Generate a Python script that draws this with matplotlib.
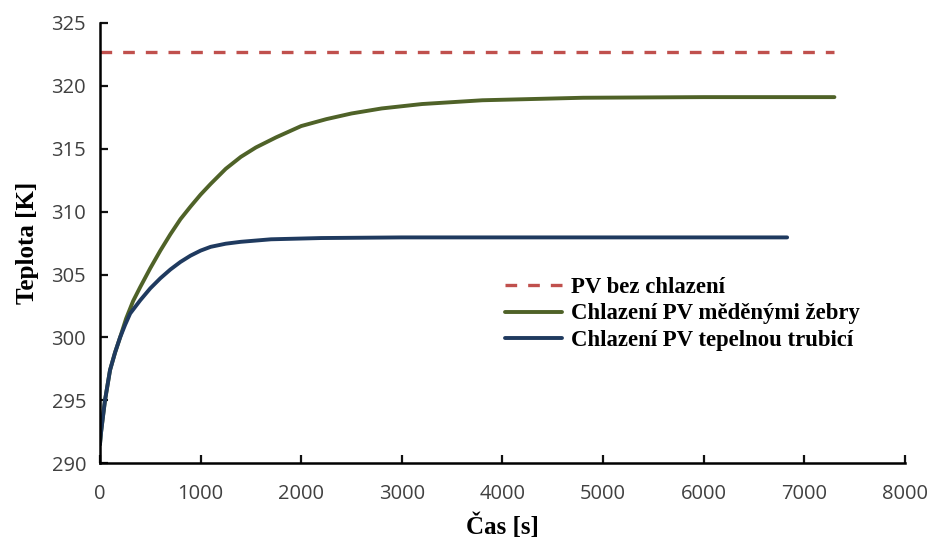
import matplotlib.pyplot as plt
import numpy as np

# values
t_ref = [0, 7300]
T_ref = [322.65, 322.65]

t_fins = [0, 10, 25, 50, 100, 150, 200, 260, 330, 400, 500, 600, 700, 800, 900,
          1000, 1100, 1250, 1400, 1550, 1750, 2000, 2250, 2500, 2800, 3200,
          3800, 4800, 6000, 7300]
T_fins = [291.5, 292.4, 293.4, 295.0, 297.4, 298.8, 300.0, 301.5, 302.9, 304.0,
          305.5, 306.9, 308.2, 309.4, 310.4, 311.35, 312.2, 313.4, 314.35, 315.1,
          315.9, 316.8, 317.35, 317.8, 318.2, 318.55, 318.85, 319.05, 319.1,
          319.1]

t_pipe = [0, 10, 25, 50, 100, 150, 200, 250, 300, 400, 500, 600, 700, 800, 900,
          1000, 1100, 1250, 1400, 1700, 2200, 3000, 6830]
T_pipe = [291.5, 292.4, 293.4, 295.0, 297.4, 298.8, 300.0, 301.0, 301.9, 302.95,
          303.9, 304.7, 305.4, 306.0, 306.5, 306.9, 307.2, 307.45, 307.6, 307.8,
          307.9, 307.95, 307.95]

labels = ["PV bez chlazení", "Chlazení PV měděnými žebry",
          "Chlazení PV tepelnou trubicí"]
x_ticks = np.arange(0, 8001, 1000)
y_ticks = np.arange(290, 326, 5)

fig = plt.figure(figsize=(9.29, 5.45), dpi=100)
ax = fig.add_axes([0.1076, 0.150, 0.8664, 0.808])

ax.plot(t_ref, T_ref, color="#C0504D", lw=2.4, ls=(0, (3.5, 3.3)), label=labels[0])
ax.plot(t_fins, T_fins, color="#4F6228", lw=2.8, label=labels[1],
        solid_capstyle="round", solid_joinstyle="round")
ax.plot(t_pipe, T_pipe, color="#1F3A5F", lw=2.8, label=labels[2],
        solid_capstyle="round", solid_joinstyle="round")

ax.set_xlim(0, 8000)
ax.set_ylim(290, 325)
ax.set_xticks(x_ticks)
ax.set_yticks(y_ticks)
for s in ["top", "right"]:
    ax.spines[s].set_visible(False)
for s in ["left", "bottom"]:
    ax.spines[s].set_linewidth(1.8)
ax.tick_params(direction="in", length=6, width=1.6, labelsize=14.5,
               colors="#111111")
ax.tick_params(axis="x", pad=15)
ax.tick_params(axis="y", pad=10)
for lab in ax.get_xticklabels() + ax.get_yticklabels():
    lab.set_family("Open Sans")
    lab.set_color("#404040")

serif = dict(family="Liberation Serif", weight="bold", size=18)
ax.set_xlabel("Čas [s]", fontdict=serif, labelpad=7)
ax.set_ylabel("Teplota [K]", fontdict=serif, labelpad=9)

ax.legend(loc="upper left", bbox_to_anchor=(0.478, 0.47), frameon=False,
          handlelength=2.5, handletextpad=0.4, labelspacing=0.25,
          prop=dict(family="Liberation Serif", weight="bold", size=16.4))

fig.savefig("out.png", dpi=100)
